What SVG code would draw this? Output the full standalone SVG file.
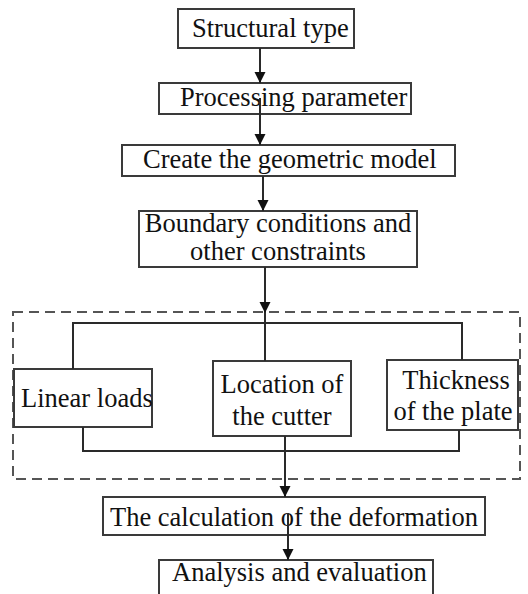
<svg xmlns="http://www.w3.org/2000/svg" width="528" height="594" viewBox="0 0 528 594">
<style>
.box{fill:#fff;stroke:#3a3a3a;stroke-width:2}
.t{font-family:'Liberation Serif','Times New Roman','DejaVu Serif',serif;font-size:26.5px;fill:#111}
.c{text-anchor:middle}
.ln{fill:none;stroke:#2a2a2a;stroke-width:2}
.dash{fill:none;stroke:#555;stroke-width:2;stroke-dasharray:10 6}
</style>
<defs>
<marker id="ah" viewBox="0 0 10 10" refX="10" refY="5" markerWidth="11" markerHeight="12" markerUnits="userSpaceOnUse" orient="auto">
<path d="M0,0 L10,5 L0,10 z" fill="#111"/>
</marker>
</defs>
<rect width="528" height="594" fill="#fff"/>
<rect id="group-frame" class="dash" x="13" y="312" width="507" height="167"/>
<g font-family="'Liberation Serif','Times New Roman','DejaVu Serif',serif">
<g id="n1"><rect class="box" x="178" y="9" width="176" height="39"/><text class="t" x="192" y="37">Structural type</text></g>
<g id="n2"><rect class="box" x="159" y="83" width="252" height="31"/><text class="t" x="180" y="106">Processing parameter</text></g>
<g id="n3"><rect class="box" x="122" y="145" width="333" height="31"/><text class="t" x="143" y="168">Create the geometric model</text></g>
<g id="n4"><rect class="box" x="139" y="211" width="278" height="56"/><text class="t c" x="278" y="232">Boundary conditions and</text><text class="t c" x="278" y="260">other constraints</text></g>
<g id="n5"><rect class="box" x="14" y="369" width="138" height="58"/><text class="t" x="21" y="407">Linear loads</text></g>
<g id="n6"><rect class="box" x="213" y="361" width="138" height="75"/><text class="t c" x="282" y="393">Location of</text><text class="t c" x="282" y="425">the cutter</text></g>
<g id="n7"><rect class="box" x="387" y="360" width="131" height="70"/><text class="t c" x="456" y="389">Thickness</text><text class="t c" x="453" y="420">of the plate</text></g>
<g id="n8"><rect class="box" x="103" y="497" width="382" height="38"/><text class="t" x="110" y="526">The calculation of the deformation</text></g>
<g id="n9"><rect class="box" x="159" y="560" width="274" height="40"/><text class="t" x="172" y="581">Analysis and evaluation</text></g>
</g>
<g id="connectors">
<line class="ln" x1="260" y1="48" x2="260" y2="83" marker-end="url(#ah)"/>
<line class="ln" x1="260" y1="98" x2="260" y2="145" marker-end="url(#ah)"/>
<line class="ln" x1="263" y1="176" x2="263" y2="211" marker-end="url(#ah)"/>
<line class="ln" x1="265" y1="267" x2="265" y2="313" marker-end="url(#ah)"/>
<line class="ln" x1="265" y1="313" x2="265" y2="361"/>
<polyline class="ln" points="73,369 73,323 462,323 462,360"/>
<polyline class="ln" points="83,427 83,451 459,451 459,430"/>
<line class="ln" x1="285" y1="436" x2="285" y2="497" marker-end="url(#ah)"/>
<line class="ln" x1="288" y1="513" x2="288" y2="560" marker-end="url(#ah)"/>
</g>
</svg>
